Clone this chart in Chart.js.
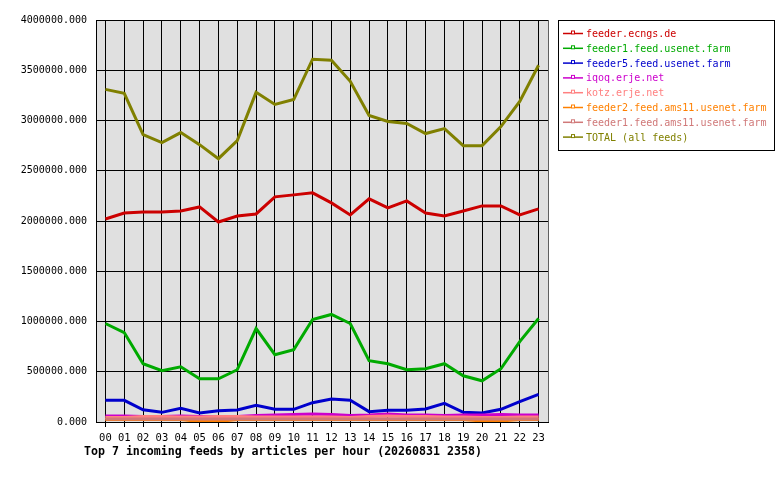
<!DOCTYPE html>
<html lang="en">

<head>
    <meta charset="UTF-8">
    <title>Top 7 incoming feeds</title>
    <script src="https://cdn.jsdelivr.net/npm/chart.js"></script>
    <style>
        body { margin: 0; background: #fff; }
        #wrap { width: 780px; height: 480px; }
    </style>
</head>

<body>
    <div id="wrap"><canvas id="feedChart" width="780" height="480"></canvas></div>

    <script>
        const hours = ['00', '01', '02', '03', '04', '05', '06', '07', '08', '09', '10', '11',
            '12', '13', '14', '15', '16', '17', '18', '19', '20', '21', '22', '23'];

        const feederEcngs = [2020000, 2080000, 2090000, 2090000, 2100000, 2140000, 1990000, 2050000,
            2070000, 2240000, 2260000, 2280000, 2180000, 2060000, 2220000, 2130000, 2200000, 2080000,
            2050000, 2100000, 2150000, 2150000, 2060000, 2120000];
        const feeder1Usenet = [980000, 890000, 580000, 510000, 550000, 430000, 430000, 520000,
            930000, 670000, 720000, 1020000, 1070000, 980000, 610000, 580000, 520000, 530000,
            580000, 460000, 410000, 530000, 800000, 1030000];
        const feeder5Usenet = [216000, 216000, 122000, 96000, 136000, 90000, 113000, 119000,
            166000, 126000, 126000, 192000, 229000, 216000, 103000, 116000, 116000, 129000,
            186000, 96000, 89000, 126000, 202000, 275000];
        const iqoqErje = [60000, 60000, 55000, 55000, 60000, 55000, 50000, 55000, 65000, 70000,
            75000, 80000, 75000, 65000, 70000, 80000, 70000, 70000, 65000, 70000, 70000, 75000,
            70000, 70000];
        const kotzErje = [45000, 45000, 55000, 55000, 50000, 50000, 55000, 55000, 50000, 50000,
            50000, 50000, 50000, 45000, 55000, 60000, 55000, 55000, 50000, 50000, 45000, 45000,
            50000, 50000];
        const feeder2Ams11 = [25000, 25000, 25000, 25000, 25000, 5000, 5000, 25000, 25000, 25000,
            25000, 25000, 25000, 25000, 25000, 25000, 25000, 25000, 25000, 25000, 10000, 10000,
            25000, 25000];
        const feeder1Ams11 = [30000, 30000, 30000, 30000, 30000, 30000, 30000, 30000, 30000, 30000,
            30000, 30000, 30000, 30000, 30000, 30000, 30000, 30000, 30000, 30000, 30000, 30000,
            30000, 30000];
        const totalAll = [3310000, 3270000, 2860000, 2780000, 2880000, 2760000, 2620000, 2800000,
            3280000, 3160000, 3210000, 3610000, 3600000, 3390000, 3050000, 2990000, 2970000,
            2870000, 2920000, 2750000, 2750000, 2940000, 3190000, 3550000];

        const feedNames = ['feeder.ecngs.de', 'feeder1.feed.usenet.farm', 'feeder5.feed.usenet.farm',
            'iqoq.erje.net', 'kotz.erje.net', 'feeder2.feed.ams11.usenet.farm',
            'feeder1.feed.ams11.usenet.farm', 'TOTAL (all feeds)'];
        const feedColors = ['#cc0000', '#00aa00', '#0000cc', '#cc00cc', '#ff8080', '#ff8000',
            '#d07878', '#808000'];
        const feedValues = [feederEcngs, feeder1Usenet, feeder5Usenet, iqoqErje, kotzErje,
            feeder2Ams11, feeder1Ams11, totalAll];

        const yTicks = [0, 500000, 1000000, 1500000, 2000000, 2500000, 3000000, 3500000, 4000000];

        const titleText = 'Top 7 incoming feeds by articles per hour (20260831 2358)';
        const mono = '"DejaVu Sans Mono", "Liberation Mono", monospace';

        // plot background, right frame line, legend box and title
        const decor = {
            id: 'decor',
            beforeDraw(chart) {
                const { ctx, chartArea: a } = chart;
                ctx.save();
                ctx.fillStyle = '#e0e0e0';
                ctx.fillRect(a.left, a.top, a.right - a.left, a.bottom - a.top);
                ctx.restore();
            },
            afterDraw(chart) {
                const { ctx, chartArea: a } = chart;
                ctx.save();
                ctx.strokeStyle = '#606060';
                ctx.lineWidth = 1;
                ctx.beginPath();
                ctx.moveTo(a.right + 0.5, a.top);
                ctx.lineTo(a.right + 0.5, a.bottom);
                ctx.stroke();

                // legend
                ctx.strokeStyle = '#000';
                ctx.strokeRect(558.5, 20.5, 216, 130);
                ctx.font = '10px ' + mono;
                ctx.textBaseline = 'middle';
                chart.data.datasets.forEach((ds, i) => {
                    const y = 33.5 + i * 14.8;
                    ctx.strokeStyle = ds.borderColor;
                    ctx.lineWidth = 1.5;
                    ctx.beginPath();
                    ctx.moveTo(563, y);
                    ctx.lineTo(583, y);
                    ctx.stroke();
                    ctx.fillStyle = '#fff';
                    ctx.fillRect(571, y - 2.5, 4, 4);
                    ctx.lineWidth = 1;
                    ctx.strokeRect(571.5, y - 2.5, 3, 3);
                    ctx.fillStyle = ds.borderColor;
                    ctx.fillText(ds.label, 586, y + 1);
                });

                // title
                ctx.fillStyle = '#000';
                ctx.font = 'bold 11.6px ' + mono;
                ctx.textBaseline = 'middle';
                ctx.fillText(titleText, 84, 452);
                ctx.restore();
            }
        };

        const ctx = document.getElementById('feedChart').getContext('2d');
        new Chart(ctx, {
            type: 'line',
            data: {
                labels: hours,
                datasets: feedValues.map((vals, i) => ({
                    label: feedNames[i],
                    data: vals,
                    borderColor: feedColors[i],
                    backgroundColor: feedColors[i],
                    borderWidth: 3,
                    pointRadius: 0,
                    tension: 0,
                    order: feedValues.length - i
                }))
            },
            options: {
                responsive: false,
                animation: false,
                devicePixelRatio: 1,
                layout: { padding: { left: 0, top: 20, right: 232, bottom: 0 } },
                plugins: {
                    legend: { display: false },
                    tooltip: { enabled: false }
                },
                scales: {
                    x: {
                        offset: true,
                        grid: { offset: false, color: '#000', tickLength: 5, drawTicks: true },
                        border: { color: '#000' },
                        ticks: {
                            color: '#000', padding: 5, maxRotation: 0, autoSkip: false,
                            font: { family: mono, size: 10.5 }
                        },
                        afterFit(scale) { scale.height = 58; }
                    },
                    y: {
                        min: yTicks[0],
                        max: yTicks[yTicks.length - 1],
                        afterBuildTicks(scale) { scale.ticks = yTicks.map(v => ({ value: v })); },
                        grid: { color: '#000', drawTicks: false },
                        border: { color: '#000' },
                        ticks: {
                            color: '#000', padding: 9,
                            font: { family: mono, size: 10 },
                            callback: v => Number(v).toFixed(3)
                        },
                        afterFit(scale) { scale.width = 96; }
                    }
                }
            },
            plugins: [decor]
        });
    </script>
</body>

</html>
